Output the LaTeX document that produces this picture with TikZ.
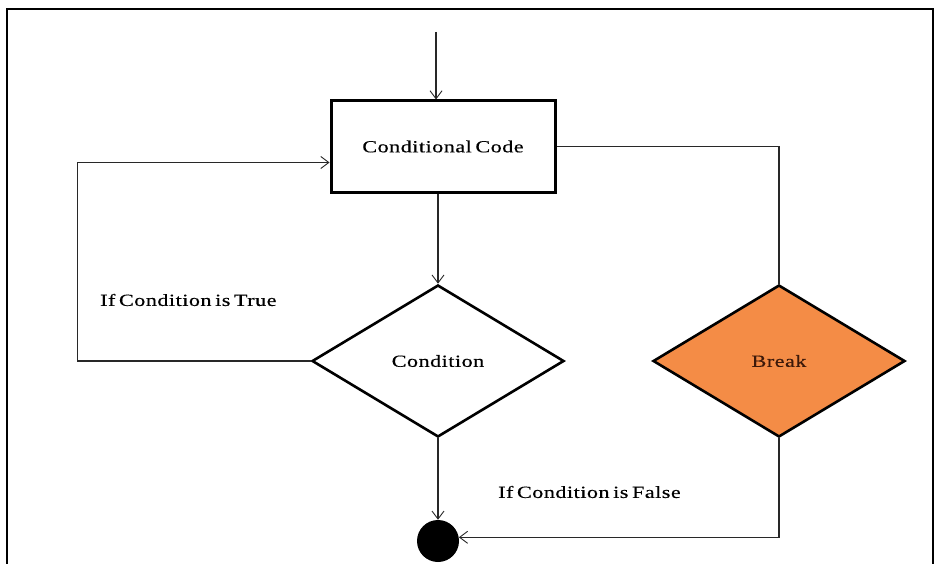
\documentclass[tikz,border=0pt]{standalone}
\usepackage{fontspec}
\setmainfont{Liberation Serif}[FakeStretch=1.3,LetterSpace=3,WordSpace=0.6,FakeBold=0.4]
\usetikzlibrary{shapes.geometric,arrows.meta,calc}
\definecolor{breakfill}{RGB}{244,140,70}
\definecolor{breaktext}{RGB}{60,25,10}
\definecolor{wire}{RGB}{40,40,40}
\tikzset{
  every node/.style={font=\fontsize{17}{20}\selectfont},
  process/.style={draw, line width=3pt, minimum width=224pt, minimum height=91pt, inner sep=0pt},
  decision/.style={diamond, draw, line width=2.6pt, minimum width=252pt, minimum height=152pt, aspect=1.66, inner sep=0pt},
  final/.style={circle, fill=black, minimum size=42pt, inner sep=0pt},
  flow/.style={draw=wire, line width=1.1pt, -{Straight Barb[length=8pt,width=12pt,line width=0.9pt]}},
  plain/.style={draw=wire, line width=1.1pt},
  label/.style={anchor=west, inner sep=0pt}
}
\begin{document}
\begin{tikzpicture}[x=1pt,y=-1pt]
  \useasboundingbox (0,0) rectangle (941,564);
  \fill[white] (0,0) rectangle (941,564);
  % outer frame (open at the bottom)
  \draw[line width=2.8pt] (7,570) -- (7,9) -- (933,9) -- (933,570);

  % nodes
  \node[process] (code) at (443,146.5) {Conditional Code};
  \node[decision] (cond) at (438,361) {Condition};
  \node[decision, fill=breakfill, text=breaktext] (brk) at (779,361) {Break};
  \node[final] (end) at (438,541) {};
  \coordinate (start) at (436,32);

  % connectors
  \draw[flow] (start) -- (start |- code.north);
  \draw[flow] (cond.north |- code.south) -- (cond.north);
  \draw[flow] (cond.west) -- ++(-233,0) |- ($(code.west)+(0,16)$);
  \draw[plain] (code.east) -| (brk.north);
  \draw[flow] (cond.south) -- (end.north);
  \draw[flow] (brk.south) |- (end.10);

  % labels
  \node[label] (tlab) at (100,300) {If Condition is True};
  \node[label] (flab) at (498,492) {If Condition is False};
\end{tikzpicture}
\end{document}
